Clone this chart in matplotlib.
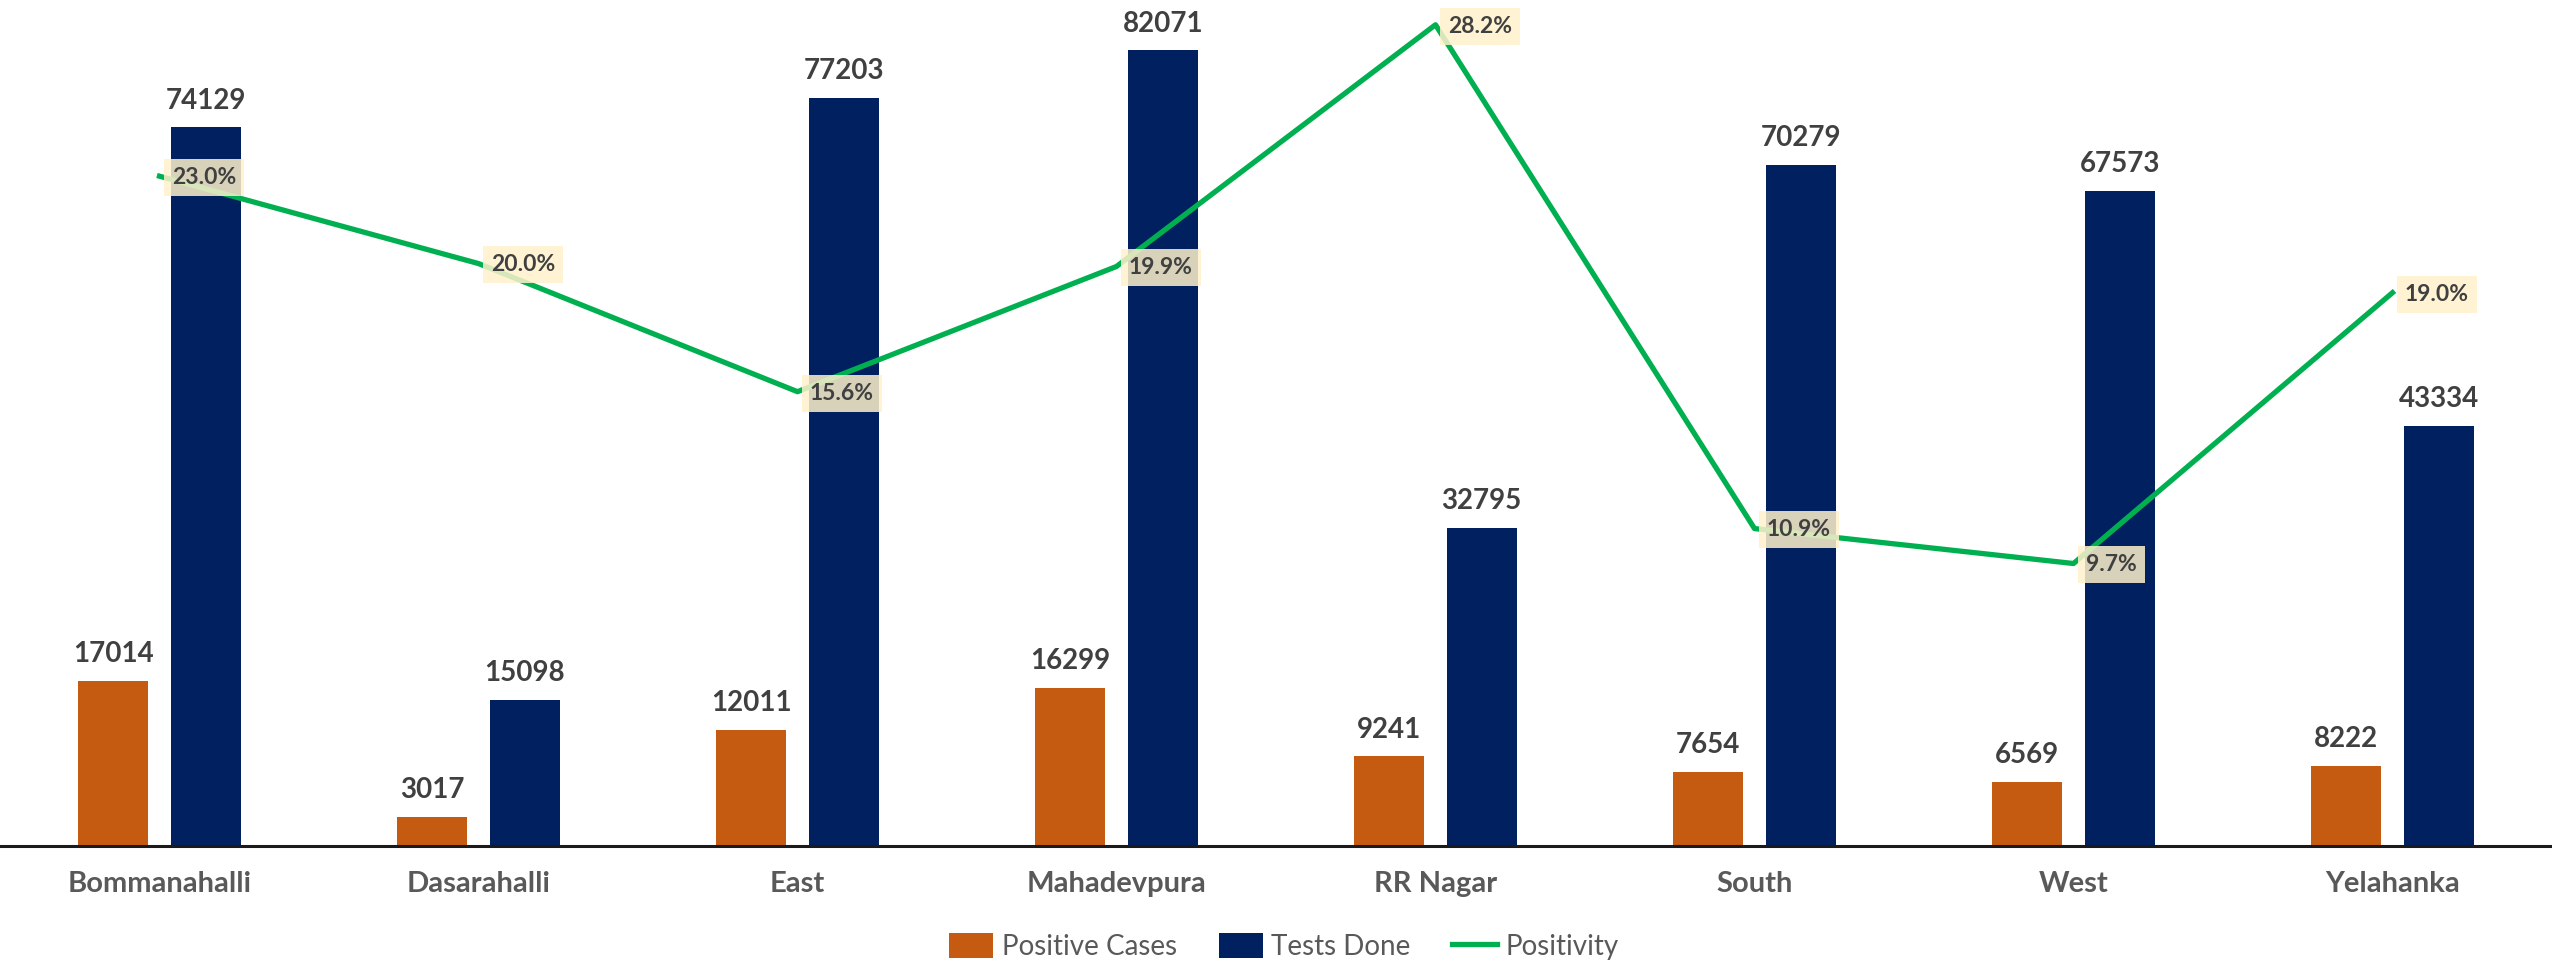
import numpy as np
import matplotlib.pyplot as plt

plt.rcParams['font.family'] = ['Liberation Sans Narrow', 'Lato', 'DejaVu Sans']

zones = ['Bommanahalli', 'Dasarahalli', 'East', 'Mahadevpura', 'RR Nagar', 'South', 'West', 'Yelahanka']
positive = [17014, 3017, 12011, 16299, 9241, 7654, 6569, 8222]
tests = [74129, 15098, 77203, 82071, 32795, 70279, 67573, 43334]
positivity = [23.0, 20.0, 15.6, 19.9, 28.2, 10.9, 9.7, 19.0]

orange = '#C55A11'
navy = '#002060'
green = '#00B050'

fig = plt.figure(figsize=(25.52, 9.66), dpi=100)
ax = fig.add_axes([0, 1 - 846 / 966, 1, 846 / 966])
x = np.arange(len(zones))
w = 0.22
off = 0.145

b1 = ax.bar(x - off, positive, w, color=orange, label='Positive Cases', zorder=2)
b2 = ax.bar(x + off, tests, w, color=navy, label='Tests Done', zorder=2)
for bars, vals in ((b1, positive), (b2, tests)):
    for r, v in zip(bars, vals):
        ax.annotate(str(v), (r.get_x() + r.get_width() / 2, v), xytext=(0, 10),
                    textcoords='offset points', ha='center', va='bottom',
                    fontsize=20, fontweight='bold', color='#404040')

ax.set_xlim(-0.5, len(zones) - 0.5)
ax.set_ylim(0, 87280)
ax.set_yticks([])
for s in ['top', 'right', 'left']:
    ax.spines[s].set_visible(False)
ax.spines['bottom'].set_linewidth(2.2)
ax.spines['bottom'].set_color('#1a1a1a')
ax.set_xticks(x)
ax.set_xticklabels(zones, fontsize=21, fontweight='bold', color='#595959')
ax.tick_params(axis='x', length=0, pad=18)

ax2 = ax.twinx()
ax2.set_ylim(0, 29.05)
ax2.set_yticks([])
for s in ax2.spines.values():
    s.set_visible(False)
ln, = ax2.plot(x, positivity, color=green, lw=3.8, label='Positivity', zorder=3)
for xi, p in zip(x, positivity):
    ax2.annotate(f'{p:.1f}%', (xi, p), xytext=(9, -1), textcoords='offset points',
                 ha='left', va='center', fontsize=16.5, fontweight='bold', color='#404040',
                 bbox=dict(boxstyle='square,pad=0.35', fc='#FFF2CC', ec='none', alpha=0.85),
                 zorder=4)

handles = [b1, b2, ln]
fig.legend(handles, [h.get_label() for h in handles], loc='center', bbox_to_anchor=(0.503, 0.02),
           ncol=3, frameon=False, fontsize=20, labelcolor='#595959',
           handlelength=1.6, handleheight=1.0, columnspacing=1.5, handletextpad=0.3)

fig.savefig('out.png', dpi=100)
